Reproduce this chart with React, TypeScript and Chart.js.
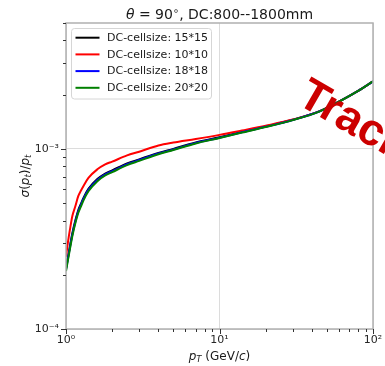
import React, { useEffect, useRef } from 'react';
import { Chart, registerables } from 'chart.js';

Chart.register(...registerables);

// transverse momentum (GeV/c)
const pT = [1, 1.03, 1.06, 1.1, 1.15, 1.2, 1.25, 1.3, 1.4, 1.6, 1.8, 2, 2.5, 3, 4, 5, 7, 10, 14, 20, 30, 45, 60, 80, 100];
// sigma(pt)/pt for each drift-chamber cell size
const cell15 = [2.17e-4, 2.5e-4, 2.87e-4, 3.4e-4, 4.0e-4, 4.55e-4, 4.95e-4, 5.35e-4, 6.0e-4, 6.8e-4, 7.3e-4, 7.6e-4, 8.3e-4, 8.75e-4, 9.5e-4, 1.0e-3, 1.085e-3, 1.16e-3, 1.24e-3, 1.33e-3, 1.45e-3, 1.62e-3, 1.83e-3, 2.1e-3, 2.37e-3];
const cell10 = [2.52e-4, 3.04e-4, 3.55e-4, 4.24e-4, 4.8e-4, 5.45e-4, 5.85e-4, 6.22e-4, 6.9e-4, 7.7e-4, 8.2e-4, 8.5e-4, 9.2e-4, 9.65e-4, 1.045e-3, 1.085e-3, 1.135e-3, 1.196e-3, 1.265e-3, 1.345e-3, 1.455e-3, 1.62e-3, 1.83e-3, 2.1e-3, 2.37e-3];
const cell18 = [2.14e-4, 2.47e-4, 2.83e-4, 3.35e-4, 3.94e-4, 4.48e-4, 4.88e-4, 5.28e-4, 5.92e-4, 6.72e-4, 7.22e-4, 7.52e-4, 8.22e-4, 8.67e-4, 9.42e-4, 9.93e-4, 1.078e-3, 1.154e-3, 1.236e-3, 1.326e-3, 1.447e-3, 1.618e-3, 1.828e-3, 2.098e-3, 2.368e-3];
const cell20 = [2.1e-4, 2.42e-4, 2.77e-4, 3.28e-4, 3.86e-4, 4.39e-4, 4.78e-4, 5.18e-4, 5.82e-4, 6.62e-4, 7.12e-4, 7.43e-4, 8.13e-4, 8.58e-4, 9.34e-4, 9.86e-4, 1.072e-3, 1.149e-3, 1.232e-3, 1.323e-3, 1.445e-3, 1.617e-3, 1.827e-3, 2.097e-3, 2.37e-3];

const seriesLabels = ['DC-cellsize: 15*15', 'DC-cellsize: 10*10', 'DC-cellsize: 18*18', 'DC-cellsize: 20*20'];
const seriesColors = ['#000000', '#ff0000', '#0000ff', '#008000'];

const xTickValues = [1, 2, 3, 4, 5, 6, 7, 8, 9, 10, 20, 30, 40, 50, 60, 70, 80, 90, 100];
const xTickLabels: [number, string][] = [[1, '10⁰'], [10, '10¹'], [100, '10²']];
const yTickValues = [1e-4, 2e-4, 3e-4, 4e-4, 5e-4, 6e-4, 7e-4, 8e-4, 9e-4, 1e-3, 2e-3, 3e-3, 4e-3, 5e-3];
const yTickLabels: [number, string][] = [[1e-4, '10⁻⁴'], [1e-3, '10⁻³']];

const FONT = '"DejaVu Sans"';

const isMajor = (v: number) => {
  const l = Math.log10(v);
  return Math.abs(l - Math.round(l)) < 1e-9;
};
const lookup = (pairs: [number, string][], v: number) => {
  for (const [k, s] of pairs) if (Math.abs(k - v) / k < 1e-9) return s;
  return '';
};

type Run = { t: string; f: string; dy?: number };
function drawRuns(ctx: CanvasRenderingContext2D, runs: Run[], x: number, y: number) {
  let w = 0;
  for (const r of runs) { ctx.font = r.f; w += ctx.measureText(r.t).width; }
  let cx = x - w / 2;
  for (const r of runs) {
    ctx.font = r.f;
    ctx.fillText(r.t, cx, y + (r.dy || 0));
    cx += ctx.measureText(r.t).width;
  }
}

const decor = {
  id: 'decor',
  afterDatasetsDraw(chart: any) {
    const ctx: CanvasRenderingContext2D = chart.ctx;
    const { left, right, top, bottom } = chart.chartArea;
    ctx.save();
    // frame
    ctx.strokeStyle = '#b0b0b0';
    ctx.lineWidth = 1.5;
    ctx.strokeRect(left, top, right - left, bottom - top);
    // tick marks
    ctx.strokeStyle = '#333';
    ctx.lineWidth = 1;
    ctx.beginPath();
    for (const t of chart.scales.x.ticks) {
      const px = Math.round(chart.scales.x.getPixelForValue(t.value)) + 0.5;
      const len = isMajor(t.value) ? 5 : 3;
      ctx.moveTo(px, bottom);
      ctx.lineTo(px, bottom + len);
    }
    for (const t of chart.scales.y.ticks) {
      const py = Math.round(chart.scales.y.getPixelForValue(t.value)) + 0.5;
      const len = isMajor(t.value) ? 5 : 3;
      ctx.moveTo(left, py);
      ctx.lineTo(left - len, py);
    }
    ctx.stroke();
    ctx.restore();
  },
  afterDraw(chart: any) {
    const ctx: CanvasRenderingContext2D = chart.ctx;
    const { left, right, top, bottom } = chart.chartArea;
    const cx = (left + right) / 2;
    ctx.save();
    ctx.fillStyle = '#1a1a1a';
    ctx.textBaseline = 'alphabetic';
    ctx.textAlign = 'left';
    // title
    drawRuns(ctx, [
      { t: 'θ', f: `italic 14px ${FONT}` },
      { t: ' = 90', f: `14px ${FONT}` },
      { t: '∘', f: `10px ${FONT}`, dy: -5 },
      { t: ', DC:800--1800mm', f: `14px ${FONT}` },
    ], cx, 19);
    // x title
    drawRuns(ctx, [
      { t: 'p', f: `italic 12px ${FONT}` },
      { t: 'T', f: `italic 8.5px ${FONT}`, dy: 2 },
      { t: ' (GeV/', f: `12px ${FONT}` },
      { t: 'c', f: `italic 12px ${FONT}` },
      { t: ')', f: `12px ${FONT}` },
    ], cx, 360);
    // y title
    ctx.save();
    ctx.translate(29, (top + bottom) / 2);
    ctx.rotate(-Math.PI / 2);
    drawRuns(ctx, [
      { t: 'σ', f: `italic 12px ${FONT}` },
      { t: '(', f: `12px ${FONT}` },
      { t: 'p', f: `italic 12px ${FONT}` },
      { t: 't', f: `italic 8.5px ${FONT}`, dy: 2 },
      { t: ')/', f: `12px ${FONT}` },
      { t: 'p', f: `italic 12px ${FONT}` },
      { t: 't', f: `italic 8.5px ${FONT}`, dy: 2 },
    ], 0, 0);
    ctx.restore();

    // legend
    const bx = 71.5, by = 28.5, bw = 140, bh = 70.5;
    ctx.fillStyle = 'rgba(255,255,255,0.8)';
    ctx.strokeStyle = '#d6d6d6';
    ctx.lineWidth = 1;
    ctx.beginPath();
    (ctx as any).roundRect(bx, by, bw, bh, 3);
    ctx.fill();
    ctx.stroke();
    chart.data.datasets.forEach((ds: any, i: number) => {
      const ry = 37.7 + i * 16.7;
      ctx.strokeStyle = ds.borderColor;
      ctx.lineWidth = 2;
      ctx.beginPath();
      ctx.moveTo(75.5, ry);
      ctx.lineTo(99.5, ry);
      ctx.stroke();
      ctx.fillStyle = '#1a1a1a';
      ctx.font = `11px ${FONT}`;
      ctx.textBaseline = 'middle';
      ctx.fillText(ds.label, 107, ry + 0.5);
    });

    // watermark
    ctx.translate(295.5, 103);
    ctx.rotate(30 * Math.PI / 180);
    ctx.fillStyle = '#cc0000';
    ctx.font = `bold 45px "Liberation Sans"`;
    ctx.textBaseline = 'alphabetic';
    ctx.fillText('Tracking', 0, 0);
    ctx.restore();
  },
};

export default function App() {
  const ref = useRef<HTMLCanvasElement | null>(null);
  useEffect(() => {
    if (!ref.current) return;
    const series = [cell15, cell10, cell18, cell20];
    const chart = new Chart(ref.current, {
      type: 'line',
      data: {
        datasets: series.map((s, i) => ({
          label: seriesLabels[i],
          data: pT.map((x, j) => ({ x, y: s[j] })),
          borderColor: seriesColors[i],
          backgroundColor: seriesColors[i],
          borderWidth: 2,
          pointRadius: 0,
          fill: false,
          cubicInterpolationMode: 'monotone' as const,
          order: 4 - i,
        })),
      },
      options: {
        animation: false,
        responsive: false,
        devicePixelRatio: 1,
        layout: { padding: { left: 0, right: 12, top: 23, bottom: 0 } },
        plugins: { legend: { display: false }, title: { display: false }, tooltip: { enabled: false } },
        scales: {
          x: {
            type: 'logarithmic',
            min: 1,
            max: 100,
            afterBuildTicks: (scale: any) => { scale.ticks = xTickValues.map((v) => ({ value: v })); },
            afterFit: (scale: any) => { scale.height = 37; scale.paddingLeft = 0; scale.paddingRight = 0; },
            ticks: {
              autoSkip: false,
              maxRotation: 0,
              minRotation: 0,
              padding: 5,
              color: '#262626',
              font: { family: 'DejaVu Sans', size: 11 },
              callback: (v: any) => lookup(xTickLabels, Number(v)),
            },
            grid: {
              drawTicks: false,
              color: (c: any) => (c.tick && isMajor(c.tick.value) ? '#dcdcdc' : 'rgba(0,0,0,0)'),
              lineWidth: 1,
            },
            border: { display: false },
          },
          y: {
            type: 'logarithmic',
            min: 1e-4,
            max: 5e-3,
            afterBuildTicks: (scale: any) => { scale.ticks = yTickValues.map((v) => ({ value: v })); },
            afterFit: (scale: any) => { scale.width = 66; scale.paddingTop = 0; scale.paddingBottom = 0; },
            ticks: {
              autoSkip: false,
              padding: 7,
              color: '#262626',
              font: { family: 'DejaVu Sans', size: 11 },
              callback: (v: any) => lookup(yTickLabels, Number(v)),
            },
            grid: {
              drawTicks: false,
              color: (c: any) => (c.tick && isMajor(c.tick.value) ? '#dcdcdc' : 'rgba(0,0,0,0)'),
              lineWidth: 1,
            },
            border: { display: false },
          },
        },
      },
      plugins: [decor],
    } as any);
    return () => chart.destroy();
  }, []);
  return (
    <div style={{ position: 'absolute', left: 0, top: 0, width: 385, height: 366, background: '#fff', overflow: 'hidden' }}>
      <canvas ref={ref} width={385} height={366} style={{ display: 'block' }} />
    </div>
  );
}
